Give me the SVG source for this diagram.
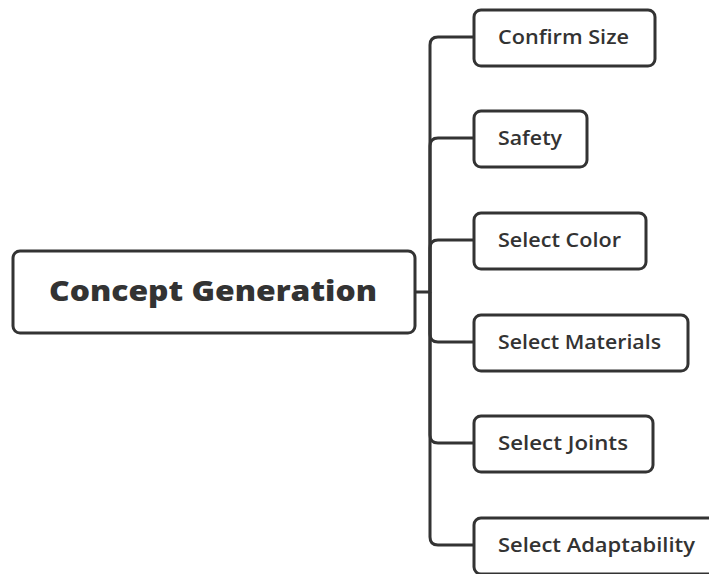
<svg xmlns="http://www.w3.org/2000/svg" width="709" height="574" viewBox="0 0 709 574">
  <style>
    .box { fill: #ffffff; stroke: #333333; stroke-width: 3; }
    .link { fill: none; stroke: #333333; stroke-width: 3; stroke-linejoin: round; }
    .root-label { font-family: "Open Sans", "Liberation Sans", sans-serif; font-weight: 800; font-size: 28px; fill: #333333; }
    .label { font-family: "Open Sans", "Liberation Sans", sans-serif; font-weight: 600; font-size: 19px; fill: #333333; }
  </style>
  <rect width="709" height="574" fill="#ffffff"/>

  <!-- connectors from the root to each branch -->
  <g id="connectors">
    <path class="link" d="M415 292 H430 V45 Q430 37 438 37 H474"/>
    <path class="link" d="M430 292 V146 Q430 138 438 138 H474"/>
    <path class="link" d="M430 292 V248 Q430 240 438 240 H474"/>
    <path class="link" d="M430 292 V334 Q430 342 438 342 H474"/>
    <path class="link" d="M430 292 V435 Q430 443 438 443 H474"/>
    <path class="link" d="M430 292 V537 Q430 545 438 545 H474"/>
  </g>

  <g id="concept-generation">
    <rect class="box" x="13" y="251" width="402" height="82" rx="7"/>
    <text class="root-label" x="49" y="301" textLength="328" lengthAdjust="spacingAndGlyphs">Concept Generation</text>
  </g>

  <g id="confirm-size">
    <rect class="box" x="474" y="10" width="181" height="56" rx="7"/>
    <text class="label" x="498" y="44" textLength="131" lengthAdjust="spacingAndGlyphs">Confirm Size</text>
  </g>

  <g id="safety">
    <rect class="box" x="474" y="111" width="113" height="56" rx="7"/>
    <text class="label" x="498" y="145" textLength="64" lengthAdjust="spacingAndGlyphs">Safety</text>
  </g>

  <g id="select-color">
    <rect class="box" x="474" y="213" width="172" height="56" rx="7"/>
    <text class="label" x="498" y="247" textLength="123" lengthAdjust="spacingAndGlyphs">Select Color</text>
  </g>

  <g id="select-materials">
    <rect class="box" x="474" y="315" width="214" height="56" rx="7"/>
    <text class="label" x="498" y="349" textLength="163" lengthAdjust="spacingAndGlyphs">Select Materials</text>
  </g>

  <g id="select-joints">
    <rect class="box" x="474" y="416" width="179" height="56" rx="7"/>
    <text class="label" x="498" y="450" textLength="130" lengthAdjust="spacingAndGlyphs">Select Joints</text>
  </g>

  <g id="select-adaptability">
    <rect class="box" x="474" y="518" width="250" height="56" rx="7"/>
    <text class="label" x="498" y="552" textLength="197" lengthAdjust="spacingAndGlyphs">Select Adaptability</text>
  </g>
</svg>
